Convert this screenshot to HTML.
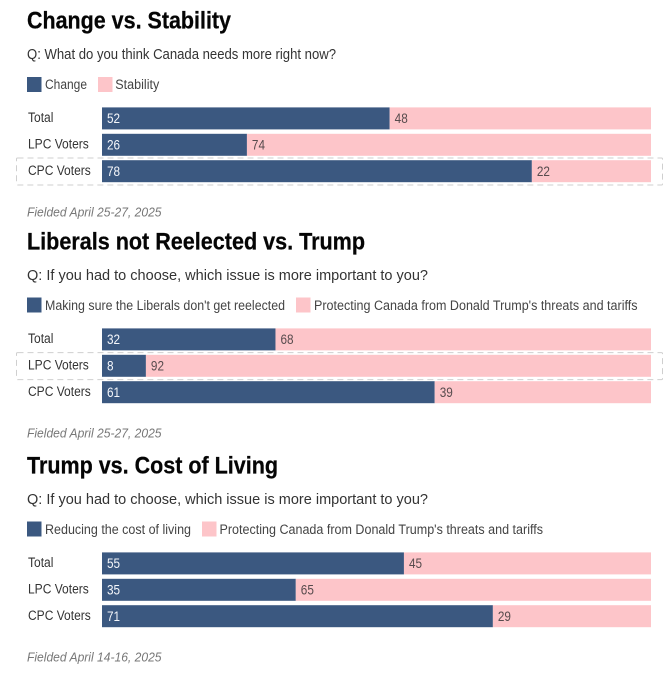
<!DOCTYPE html>
<html lang="en">
<head>
<meta charset="utf-8">
<title>Change vs. Stability polling charts</title>
<style>
html,body{margin:0;padding:0;background:#fff;width:670px;height:674px;overflow:hidden}
svg{display:block;font-family:"Liberation Sans",Arial,sans-serif}
.title{font-size:24.5px;font-weight:700;fill:#050505;stroke:#050505;stroke-width:.25px}
.question{font-size:14.5px;fill:#333}
.legend{font-size:13.5px;fill:#444}
.note{font-size:13px;font-style:italic;fill:#777}
.row-label{font-size:13.5px;fill:#333}
.value{font-size:14px}
</style>
</head>
<body>
<svg id="chart" width="670" height="674" viewBox="0 0 670 674" xmlns="http://www.w3.org/2000/svg">
  <g>
    <text class="title" x="27" y="28.5" textLength="204" lengthAdjust="spacingAndGlyphs">Change vs. Stability</text>
    <text class="question" x="27" y="59" textLength="309" lengthAdjust="spacingAndGlyphs">Q: What do you think Canada needs more right now?</text>
    <rect x="27" y="77" width="14.5" height="15" fill="#3b5880"/>
    <text class="legend" x="45" y="89" textLength="42" lengthAdjust="spacingAndGlyphs">Change</text>
    <rect x="98" y="77" width="14.5" height="15" fill="#fdc5c9"/>
    <text class="legend" x="115.3" y="89" textLength="44" lengthAdjust="spacingAndGlyphs">Stability</text>
    <text class="note" x="27" y="216.5" textLength="134.5" lengthAdjust="spacingAndGlyphs">Fielded April 25-27, 2025</text>
  </g>
  <g>
    <text class="title" x="27" y="249.5" textLength="338" lengthAdjust="spacingAndGlyphs">Liberals not Reelected vs. Trump</text>
    <text class="question" x="27" y="280" textLength="401" lengthAdjust="spacingAndGlyphs">Q: If you had to choose, which issue is more important to you?</text>
    <rect x="27" y="297.5" width="14.5" height="15" fill="#3b5880"/>
    <text class="legend" x="45" y="310" textLength="240" lengthAdjust="spacingAndGlyphs">Making sure the Liberals don't get reelected</text>
    <rect x="296" y="297.5" width="14.5" height="15" fill="#fdc5c9"/>
    <text class="legend" x="314" y="310" textLength="323.5" lengthAdjust="spacingAndGlyphs">Protecting Canada from Donald Trump's threats and tariffs</text>
    <text class="note" x="27" y="437.5" textLength="134.5" lengthAdjust="spacingAndGlyphs">Fielded April 25-27, 2025</text>
  </g>
  <g>
    <text class="title" x="27" y="473.5" textLength="251" lengthAdjust="spacingAndGlyphs">Trump vs. Cost of Living</text>
    <text class="question" x="27" y="504" textLength="401" lengthAdjust="spacingAndGlyphs">Q: If you had to choose, which issue is more important to you?</text>
    <rect x="27" y="521.5" width="14.5" height="15" fill="#3b5880"/>
    <text class="legend" x="45" y="534" textLength="146" lengthAdjust="spacingAndGlyphs">Reducing the cost of living</text>
    <rect x="202" y="521.5" width="14.5" height="15" fill="#fdc5c9"/>
    <text class="legend" x="219.5" y="534" textLength="323.5" lengthAdjust="spacingAndGlyphs">Protecting Canada from Donald Trump's threats and tariffs</text>
    <text class="note" x="27" y="661.5" textLength="134.5" lengthAdjust="spacingAndGlyphs">Fielded April 14-16, 2025</text>
  </g>
</svg>
<script>
const categories = ['Total', 'LPC Voters', 'CPC Voters'];

const changeShare = [52.4, 26.4, 78.3];
const stabilityShare = [47.6, 73.6, 21.7];
const changeHighlight = 'CPC Voters';

const liberalsShare = [31.6, 8.0, 60.6];
const trumpThreatShare = [68.4, 92.0, 39.4];
const liberalsHighlight = 'LPC Voters';

const costShare = [55.0, 35.3, 71.2];
const trumpShare = [45.0, 64.7, 28.8];

const NS = 'http://www.w3.org/2000/svg';
const svg = document.getElementById('chart');
const xScale = function (v) { return 102 + (v / 100) * 549; };
const yScale = function (i, top) { return top + i * 26.4; };
const BAR_H = 22;

function make(parent, tag, attrs) {
  const el = document.createElementNS(NS, tag);
  Object.keys(attrs).forEach(function (k) { el.setAttribute(k, attrs[k]); });
  parent.appendChild(el);
  return el;
}
function condense(el, ratio) {
  el.setAttribute('textLength', (el.getComputedTextLength() * ratio).toFixed(2));
  el.setAttribute('lengthAdjust', 'spacingAndGlyphs');
}

function drawChart(name, top, first, second, highlight) {
  const g = make(svg, 'g', {});
  
  

  categories.forEach(function (cat, i) {
    const y = yScale(i, top);
    const key = cat.toLowerCase().replace(/\s+/g, '-');

    const label = make(g, 'text', { class: 'row-label', x: 28, y: y + 14.8 });
    label.textContent = cat;
    
    
    condense(label, 0.89);

    const end1 = xScale(first[i]);
    const end2 = xScale(first[i] + second[i]);

    const bar1 = make(g, 'rect', { x: xScale(0), y: y, width: end1 - xScale(0), height: BAR_H, fill: '#3b5880' });
    
    

    const bar2 = make(g, 'rect', { x: end1, y: y, width: end2 - end1, height: BAR_H, fill: '#fdc5c9' });
    
    

    const val1 = make(g, 'text', { class: 'value', x: xScale(0) + 5, y: y + 15.8, fill: '#f4f6fa' });
    val1.textContent = Math.round(first[i]);
    
    
    condense(val1, 0.84);

    const val2 = make(g, 'text', { class: 'value', x: end1 + 5, y: y + 15.8, fill: '#574b4d' });
    val2.textContent = Math.round(second[i]);
    
    
    condense(val2, 0.84);

    if (cat === highlight) {
      const box = make(g, 'rect', { x: 16.5, y: y - 2.2, width: 646, height: 27, rx: 1, fill: 'none', stroke: '#cfcfcf', 'stroke-width': 1, 'stroke-dasharray': '6 4' });
      
      
    }
  });
}

drawChart('change-vs-stability-chart', 107.4, changeShare, stabilityShare, changeHighlight);
drawChart('liberals-vs-trump-chart', 328.4, liberalsShare, trumpThreatShare, liberalsHighlight);
drawChart('trump-vs-cost-chart', 552.4, costShare, trumpShare, null);
</script>
</body>
</html>
